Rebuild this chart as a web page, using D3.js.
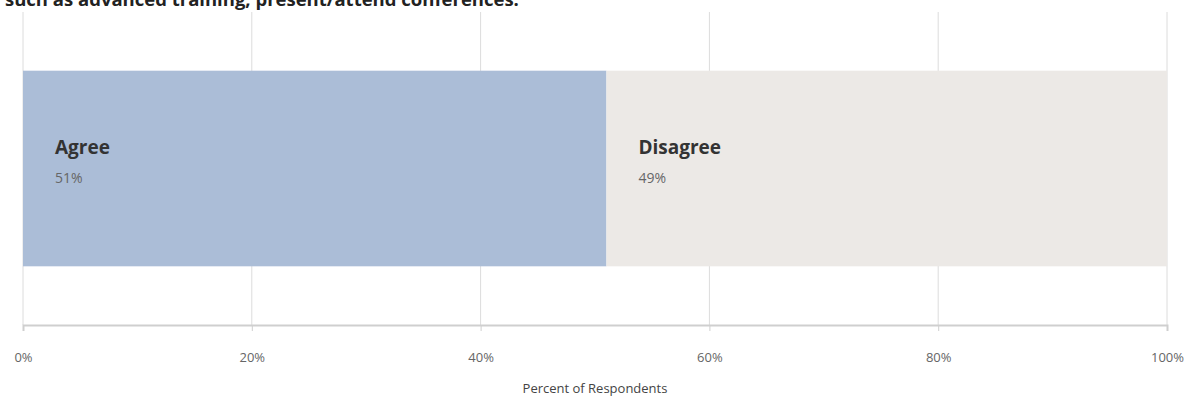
<!DOCTYPE html>
<html>
<head>
<meta charset="utf-8">
<script src="https://cdn.jsdelivr.net/npm/d3@7"></script>
<style>
  body { margin: 0; background: #fff; }
  svg text { font-family: "Open Sans", "DejaVu Sans", sans-serif; }
</style>
</head>
<body>
<div id="chart"></div>
<script>
// data
const categories = ["Agree", "Disagree"];
const values     = [51, 49];
const tickValues = [0, 20, 40, 60, 80, 100];
const titleText  = "such as advanced training, present/attend conferences.";
const axisTitle  = "Percent of Respondents";

const colors = ["#abbdd7", "#ece9e6"];

const W = 1198, H = 406;
const margin = { top: 12, right: 31, bottom: 81, left: 23 };
const width  = W - margin.left - margin.right;
const height = H - margin.top - margin.bottom;

const svg = d3.select("#chart").append("svg")
  .attr("width", W).attr("height", H);

// title (cut at the top like the source crop)
svg.append("text")
  .attr("x", 5).attr("y", 6)
  .style("font-size", "18.5px")
  .style("font-weight", "bold")
  .style("fill", "#222")
  .text(titleText);

const g = svg.append("g")
  .attr("transform", `translate(${margin.left},${margin.top})`);

const x = d3.scaleLinear().domain([0, 100]).range([0, width]);
const y = d3.scaleBand().domain(["row"]).range([0, height]).paddingInner(0).paddingOuter(0.3);

// gridlines
g.append("g")
  .selectAll("line")
  .data(tickValues)
  .join("line")
    .attr("x1", d => x(d)).attr("x2", d => x(d))
    .attr("y1", 0).attr("y2", height)
    .attr("stroke", "#dcdcdc")
    .attr("stroke-width", 1);

// stacked bar
let acc = 0;
const stacked = categories.map((c, i) => {
  const s = { name: c, value: values[i], x0: acc, x1: acc + values[i], color: colors[i] };
  acc += values[i];
  return s;
});

g.selectAll("rect.seg")
  .data(stacked)
  .join("rect")
    .attr("class", "seg")
    .attr("x", d => x(d.x0))
    .attr("width", d => x(d.x1) - x(d.x0))
    .attr("y", y("row"))
    .attr("height", y.bandwidth())
    .attr("fill", d => d.color);

// labels inside segments
const lbl = g.selectAll("g.lbl")
  .data(stacked)
  .join("g")
    .attr("class", "lbl")
    .attr("transform", d => `translate(${x(d.x0) + 32},${y("row")})`);

lbl.append("text")
  .attr("y", 83)
  .style("font-size", "19px")
  .style("font-weight", "bold")
  .style("fill", "#333")
  .text(d => d.name);

lbl.append("text")
  .attr("y", 112)
  .style("font-size", "14px")
  .style("fill", "#666")
  .text(d => d.value + "%");

// x axis
const xAxis = g.append("g")
  .attr("transform", `translate(0,${height})`)
  .call(d3.axisBottom(x).tickValues(tickValues).tickFormat(d => d + "%").tickSize(6).tickPadding(22));

xAxis.select(".domain").attr("stroke", "#cfcfcf").attr("stroke-width", 2);
xAxis.selectAll(".tick line").attr("stroke", "#cfcfcf");
xAxis.selectAll(".tick text")
  .style("font-size", "13px")
  .style("fill", "#666")
  .style("font-family", "\"Open Sans\", sans-serif");

// axis title
svg.append("text")
  .attr("x", margin.left + width / 2)
  .attr("y", 393)
  .attr("text-anchor", "middle")
  .style("font-size", "13px")
  .style("fill", "#444")
  .text(axisTitle);
</script>
</body>
</html>
